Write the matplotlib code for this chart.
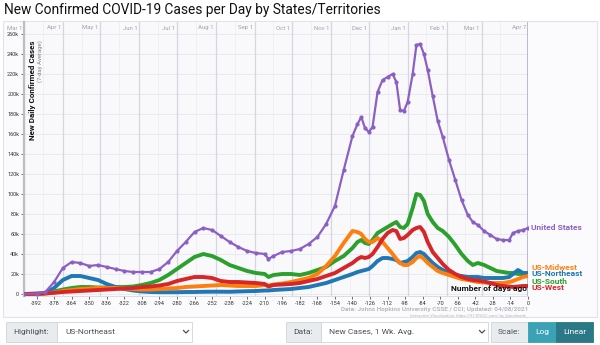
import matplotlib
matplotlib.use("Agg")
import matplotlib.pyplot as plt
from matplotlib.patches import Rectangle
from matplotlib.lines import Line2D

plt.rcParams["font.family"] = ["Roboto", "DejaVu Sans"]

# days before 2021-04-07, and 7-day average of new cases (thousands)
days = [-402, -392, -385, -378, -371, -364, -357, -350, -343, -336, -329, -322,
        -315, -308, -301, -294, -287, -280, -273, -266, -259, -252, -245, -238,
        -231, -224, -217, -210, -207, -203, -196, -189, -182, -175, -168, -161,
        -154, -147, -140, -136, -133, -130, -127, -124, -120, -116, -112, -108,
        -105, -102, -99, -96, -92, -89, -86, -83, -80, -76, -72, -68, -63, -58,
        -53, -48, -44, -40, -35, -30, -25, -20, -15, -12, -8, -4, 0]

us = [0, 0.5, 2, 12, 26, 32, 31, 28, 29, 27, 25, 23,
      22, 22, 22, 25, 32, 43, 52, 62, 66, 64, 58, 52,
      47, 43, 41, 40, 35, 38, 42, 43, 45, 50, 57, 70,
      88, 124, 158, 170, 177, 166, 162, 167, 202, 214, 217, 220,
      212, 184, 183, 192, 220, 249, 250, 240, 224, 198, 173, 157, 134, 114,
      94, 79, 72, 69, 63, 59, 55, 54, 54, 61, 63, 64, 66]

northeast = [0, 0.3, 1, 6, 14, 18, 18, 16, 14, 10, 7, 5,
             3.5, 2.5, 2, 1.8, 1.8, 1.8, 2, 2, 2.2, 2.3, 2.3, 2.2,
             2.5, 2.8, 3, 3.5, 3.5, 4, 4.5, 5, 6, 7, 9, 11,
             14, 17, 20, 22, 23, 24, 25, 28, 33, 36, 36, 35,
             34, 31, 32, 33, 37, 41, 42, 40, 36, 31, 27, 24, 21, 19,
             18, 17, 17, 17, 16, 16, 16, 16, 17, 20, 24, 21, 21]

midwest = [0, 0.2, 0.5, 1.5, 3, 4, 5, 5.5, 6, 6, 6, 5.5,
           5, 4.5, 4.5, 5, 5.5, 6, 7, 7.5, 8, 8.5, 9, 8.5,
           8, 8, 8, 9, 8.5, 9.5, 10.5, 12, 14, 16, 20, 28,
           38, 51, 63, 62, 60, 55, 52, 52, 56, 52, 46, 40,
           35, 31, 29, 29, 32, 36, 38, 35, 31, 27, 23, 21, 19, 17,
           15, 14, 13, 12, 11.5, 11, 11, 11, 12, 13, 15, 17, 18]

south = [0, 0.2, 0.8, 2.5, 4.5, 6, 7, 7, 6.5, 6.5, 7, 7,
         7.5, 9, 11, 14, 19, 25, 31, 37, 40, 38, 34, 29,
         26, 23, 21, 20, 17, 19, 20, 20, 19, 21, 24, 27,
         33, 38, 46, 52, 54, 51, 50, 54, 61, 64, 67, 70,
         72, 67, 66, 70, 86, 100, 99, 93, 80, 72, 66, 63, 57, 49,
         40, 33, 29, 31, 29, 26, 23, 22, 21, 21, 20, 20, 20]

west = [0, 0.2, 0.5, 1.2, 2, 2.5, 3, 3.5, 4, 4.5, 5, 5.5,
        6, 7, 7.5, 8.5, 10, 13, 15, 17, 17, 16, 13, 12,
        12, 11.5, 11, 10, 7.5, 9, 9.5, 10, 11, 13, 15, 18,
        21, 26, 31, 35, 37, 36, 37, 40, 47, 55, 61, 64,
        63, 55, 56, 59, 64, 66, 67, 62, 52, 42, 36, 30, 24, 20,
        17, 15, 14, 13.5, 12.5, 11, 9, 8, 7.5, 7, 7.5, 8, 8]

month_days = [-402, -371, -341, -310, -280, -249, -218, -188, -157, -127, -96, -65, -37, 0]
month_labels = ["Mar 1", "Apr 1", "May 1", "Jun 1", "Jul 1", "Aug 1", "Sep 1",
                "Oct 1", "Nov 1", "Dec 1", "Jan 1", "Feb 1", "Mar 1", "Apr 7"]
mid_month_days = [d + 15 for d in month_days[:-1]]

y_ticks = list(range(0, 261, 20))
x_ticks = list(range(-392, 1, 14))

regions = [
    ("US-South", south, "#2ca02c", 281),
    ("US-Northeast", northeast, "#1f77b4", 274),
    ("US-Midwest", midwest, "#ff7f0e", 267),
    ("US-West", west, "#d62728", 287),
]
us_color = "#8c5fc4"

W, H = 600, 345


def fx(px):
    return px / W


def fy(py):
    return 1 - py / H


fig = plt.figure(figsize=(6, 3.45), dpi=100)
fig.patch.set_facecolor("white")

# chart panel
fig.patches.append(Rectangle((fx(3), fy(317)), fx(594), 296 / H, transform=fig.transFigure,
                             facecolor="#fbfbfd", edgecolor="#e2e2e8", lw=0.8, zorder=-5))

fig.text(fx(4), fy(10), "New Confirmed COVID-19 Cases per Day by States/Territories",
         fontsize=9.9, color="#111", va="center", ha="left")

ax = fig.add_axes([fx(24), fy(296), 504 / W, 274 / H])
ax.set_zorder(2)
ax.set_facecolor("#f9f9fc")
ax.set_xlim(-402, 0)
ax.set_ylim(-2, 272)

for v in y_ticks:
    ax.axhline(v, color="#e6e6ee", lw=0.6, zorder=0)
for d in mid_month_days:
    ax.axvline(d, color="#ececf2", lw=0.6, zorder=0)
for d in month_days[:-1]:
    ax.axvline(d, color="#d6d6de", lw=0.9, zorder=0)
ax.axvline(0, color="#b4accb", lw=1.2, zorder=1)

for d, lab in zip(month_days, month_labels):
    ax.text(d - 1.5, 266, lab, fontsize=4.3, color="#a0a0a8", ha="right", va="center")

for name, vals, col, _ in regions:
    ax.plot(days, vals, color=col, lw=2.8, solid_capstyle="round",
            solid_joinstyle="round", zorder=3)
ax.plot(days, us, color=us_color, lw=1.6, marker="o", markersize=2.0, zorder=4)

# series labels at the right edge
ax.text(2.5, us[-1], "United States", color=us_color, fontsize=6, fontweight="bold",
        va="center", ha="left", clip_on=False)
for name, vals, col, py in regions:
    ax.text(2.5, 294 - py, name, color=col, fontsize=6, fontweight="bold",
            va="center", ha="left", clip_on=False)

ax.text(-1, 5, "Number of days ago", fontsize=6, fontweight="bold", color="#111",
        ha="right", va="center", zorder=5)

ax.set_yticks(y_ticks)
ax.set_yticklabels(["0" if v == 0 else f"{v}k" for v in y_ticks])
ax.set_xticks(x_ticks)
ax.set_xticklabels([str(t) for t in x_ticks])
ax.tick_params(axis="both", labelsize=4, colors="#333", length=2, width=0.5, pad=1.5)
for s in ["top", "right"]:
    ax.spines[s].set_visible(False)
ax.spines["left"].set_color("#bdbdc4")
ax.spines["left"].set_linewidth(1.6)
ax.spines["bottom"].set_color("#d6d6de")
ax.spines["bottom"].set_linewidth(0.6)

fig.text(fx(33), fy(40), "New Daily Confirmed Cases", rotation=90, fontsize=5.8,
         fontweight="bold", color="#111", ha="center", va="top", zorder=5)
fig.text(fx(40), fy(40), "(7-day Average)", rotation=90, fontsize=4.3,
         color="#888", ha="center", va="top", zorder=5)

fig.text(fx(528), fy(309), "Data: Johns Hopkins University CSSE / CCI; Updated: 04/08/2021",
         fontsize=4.6, color="#b8b8c0", fontweight="bold", ha="right", va="center")
fig.text(fx(528), fy(315.5), "Interactive Visualization: https://91-DIVOC.com/ by @profwade_",
         fontsize=3, color="#b8b8c0", ha="right", va="center")


# controls row
def box(x0, x1, face, edge="#ced4da"):
    fig.patches.append(Rectangle((fx(x0), fy(342)), (x1 - x0) / W, 20 / H,
                                 transform=fig.transFigure, facecolor=face,
                                 edgecolor=edge, lw=0.6, zorder=1))


def chevron(xc):
    fig.lines.append(Line2D([fx(xc - 2.5), fx(xc), fx(xc + 2.5)],
                            [fy(330.5), fy(333), fy(330.5)], transform=fig.transFigure,
                            color="#495057", lw=0.9, zorder=3))


box(6, 57, "#e9ecef")
box(57, 192, "white")
fig.text(fx(13), fy(332), "Highlight:", fontsize=6, color="#495057", va="center")
fig.text(fx(65), fy(332), "US-Northeast", fontsize=6, color="#495057", va="center")
chevron(186)

box(286, 321, "#e9ecef")
box(321, 488, "white")
fig.text(fx(293), fy(332), "Data:", fontsize=6, color="#495057", va="center")
fig.text(fx(329), fy(332), "New Cases, 1 Wk. Avg.", fontsize=6, color="#495057", va="center")
chevron(482)

box(491, 528, "#e9ecef")
box(528, 556, "#3ba2b6", edge="#3ba2b6")
box(556, 593, "#2b7886", edge="#2b7886")
fig.text(fx(498), fy(332), "Scale:", fontsize=6, color="#495057", va="center")
fig.text(fx(542), fy(332), "Log", fontsize=6, color="white", va="center", ha="center")
fig.text(fx(574.5), fy(332), "Linear", fontsize=6, color="white", va="center", ha="center")

fig.savefig("out.png", dpi=100)
